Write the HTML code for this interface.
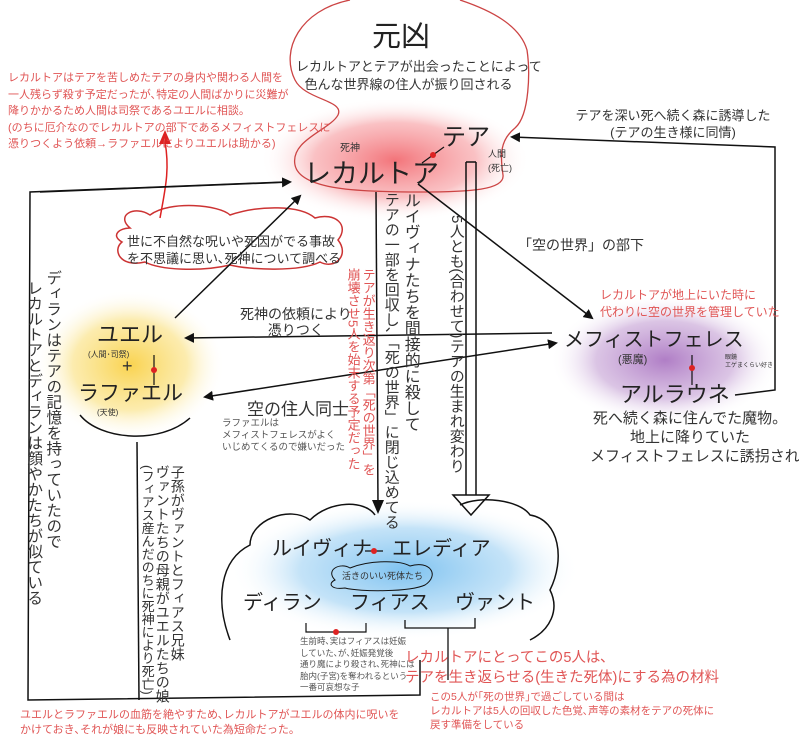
<!DOCTYPE html>
<html><head><meta charset="utf-8"><style>
body{margin:0;width:799px;height:751px;background:#fff;position:relative;overflow:hidden;font-family:"Liberation Sans","Noto Sans CJK JP",sans-serif;color:#333}
.t{position:absolute;white-space:nowrap;line-height:1.2}
.r{color:#e05555}
.v{writing-mode:vertical-rl;position:absolute;white-space:nowrap;line-height:1.05}
svg{position:absolute;left:0;top:0}
</style></head><body>
<svg width="799" height="751">
<defs>
<radialGradient id="pk"><stop offset="0" stop-color="#f26d73" stop-opacity=".95"/><stop offset=".6" stop-color="#f7a0a4" stop-opacity=".65"/><stop offset="1" stop-color="#fff" stop-opacity="0"/></radialGradient>
<radialGradient id="yl"><stop offset="0" stop-color="#f9d350"/><stop offset=".6" stop-color="#fbe79a" stop-opacity=".8"/><stop offset="1" stop-color="#fff" stop-opacity="0"/></radialGradient>
<radialGradient id="pu"><stop offset="0" stop-color="#b07ec6"/><stop offset=".6" stop-color="#d2b6de" stop-opacity=".8"/><stop offset="1" stop-color="#fff" stop-opacity="0"/></radialGradient>
<radialGradient id="bl"><stop offset="0" stop-color="#7ec2f0"/><stop offset=".6" stop-color="#b5dcf6" stop-opacity=".8"/><stop offset="1" stop-color="#fff" stop-opacity="0"/></radialGradient>
<marker id="a" markerWidth="10" markerHeight="10" refX="8" refY="5" orient="auto" markerUnits="userSpaceOnUse"><path d="M0,0L10,5L0,10z" fill="#111"/></marker>
<marker id="as" markerWidth="10" markerHeight="10" refX="2" refY="5" orient="auto" markerUnits="userSpaceOnUse"><path d="M10,0L0,5L10,10z" fill="#111"/></marker>
</defs>
<ellipse cx="395" cy="160" rx="135" ry="62" fill="url(#pk)"/>
<ellipse cx="130" cy="365" rx="95" ry="75" fill="url(#yl)"/>
<ellipse cx="665" cy="360" rx="115" ry="65" fill="url(#pu)"/>
<ellipse cx="405" cy="570" rx="175" ry="70" fill="url(#bl)"/>
<path d="M350,0 C300,10 280,50 295,80 C305,100 345,100 338,115 C330,130 290,140 295,165 C300,190 360,192 420,192 C470,192 505,190 503,175 C500,155 500,140 515,128 C530,115 530,70 527,50 C520,25 490,10 460,0" fill="none" stroke="#c44" stroke-width="1.3"/>
<path d="M130,228 C115,215 135,205 150,215 C170,200 220,205 230,215 C260,205 300,205 315,218 C335,212 350,225 338,240 C350,255 335,270 320,262 C300,272 250,270 230,265 C200,272 160,270 145,262 C120,268 112,250 122,242 C110,235 120,228 130,228Z" fill="none" stroke="#c33" stroke-width="1.5"/>
<path d="M160,218 C165,190 170,170 165,142" fill="none" stroke="#d22" stroke-width="1.5"/>
<path d="M159,144 L165,130 L171,144Z" fill="#d22"/>
<path d="M285,182 L30,192 L28,700 L420,695 L420,660" fill="none" stroke="#111" stroke-width="1.5"/>
<line x1="40" y1="192" x2="290" y2="182" stroke="#111" stroke-width="1.5" marker-end="url(#a)"/>
<line x1="175" y1="318" x2="300" y2="196" stroke="#111" stroke-width="1.5" marker-end="url(#a)"/>
<line x1="552" y1="333" x2="186" y2="338" stroke="#111" stroke-width="1.5" marker-end="url(#a)"/>
<line x1="205" y1="397" x2="556" y2="343" stroke="#111" stroke-width="1.5" marker-start="url(#as)" marker-end="url(#a)"/>
<line x1="418" y1="184" x2="592" y2="318" stroke="#111" stroke-width="1.5" marker-end="url(#a)"/>
<path d="M735,395 L775,390 L775,147 L512,137" fill="none" stroke="#111" stroke-width="1.5" marker-end="url(#a)"/>
<line x1="376" y1="192" x2="378" y2="505" stroke="#111" stroke-width="1.5"/>
<path d="M372,500 L378,514 L384,500Z" fill="#111"/>
<line x1="466" y1="162" x2="466" y2="495" stroke="#111" stroke-width="1.5"/>
<line x1="476" y1="162" x2="476" y2="495" stroke="#111" stroke-width="1.5"/>
<line x1="466" y1="162" x2="476" y2="162" stroke="#111" stroke-width="1.5"/>
<path d="M453,495 L471,515 L489,495Z" fill="#fff" stroke="#111" stroke-width="1.5"/>
<path d="M80,415 C100,440 160,445 190,418" fill="none" stroke="#111" stroke-width="1.5"/>
<line x1="137" y1="442" x2="139" y2="700" stroke="#111" stroke-width="1.5"/>
<path d="M230,640 C215,600 220,560 250,545 C250,520 290,505 310,520 C330,500 365,500 375,515 M460,505 C480,495 520,500 530,515 C560,520 565,560 550,590 C560,610 550,630 530,640" fill="none" stroke="#111" stroke-width="1.5"/>
<path d="M405,620 L405,628 L475,628 L475,618 M448,628 L448,680" fill="none" stroke="#111" stroke-width="1.3"/>
<path d="M306,623 L306,632 L366,632 L366,623" fill="none" stroke="#111" stroke-width="1.2"/>
<circle cx="336" cy="632" r="3" fill="#d22"/>
<path d="M335,580 C325,570 340,562 350,568 C370,560 400,560 410,566 C430,560 440,575 425,585 C410,592 360,592 345,588 C330,590 328,583 335,580Z" fill="none" stroke="#111" stroke-width="1"/>
<line x1="422" y1="163" x2="444" y2="147" stroke="#111" stroke-width="1.2"/><circle cx="433" cy="155" r="3" fill="#d22"/>
<line x1="154" y1="355" x2="154" y2="385" stroke="#111" stroke-width="1.2"/><circle cx="154" cy="370" r="3" fill="#d22"/>
<line x1="692" y1="355" x2="692" y2="385" stroke="#111" stroke-width="1.2"/><circle cx="692" cy="368" r="3" fill="#d22"/>
<line x1="365" y1="551" x2="383" y2="551" stroke="#111" stroke-width="1.2"/><circle cx="374" cy="551" r="3" fill="#d22"/>
</svg>

<div class="t" style="left:372px;top:20px;font-size:29px;color:#222">元凶</div>
<div class="t" style="left:296px;top:58px;font-size:13px;text-align:center;width:225px;line-height:18px">レカルトアとテアが出会ったことによって<br>色んな世界線の住人が振り回される</div>
<div class="t r" style="left:8px;top:70px;font-size:11px;line-height:16.5px">レカルトアはテアを苦しめたテアの身内や関わる人間を<br>一人残らず殺す予定だったが､特定の人間ばかりに災難が<br>降りかかるため人間は司祭であるユエルに相談。<br>(のちに厄介なのでレカルトアの部下であるメフィストフェレスに<br>憑りつくよう依頼→ラファエルによりユエルは助かる)</div>
<div class="t" style="left:340px;top:143px;font-size:10px">死神</div>
<div class="t" style="left:304px;top:158px;font-size:27px;color:#222">レカルトア</div>
<div class="t" style="left:442px;top:124px;font-size:24px;color:#222">テア</div>
<div class="t" style="left:488px;top:147px;font-size:9px;line-height:14px">人間<br>(死亡)</div>
<div class="t" style="left:568px;top:107px;font-size:13px;line-height:17px;text-align:center;width:210px">テアを深い死へ続く森に誘導した<br>(テアの生き様に同情)</div>
<div class="t" style="left:127px;top:233px;font-size:13px;line-height:17px">世に不自然な呪いや死因がでる事故<br>を不思議に思い､死神について調べる</div>
<div class="t" style="left:518px;top:237px;font-size:14px">「空の世界」の部下</div>
<div class="t r" style="left:600px;top:287px;font-size:12px;line-height:17px">レカルトアが地上にいた時に<br>代わりに空の世界を管理していた</div>
<div class="t" style="left:240px;top:306px;font-size:14px;line-height:16px;text-align:center">死神の依頼により<br>憑りつく</div>
<div class="t" style="left:97px;top:322px;font-size:22px;color:#222">ユエル</div>
<div class="t" style="left:88px;top:350px;font-size:8px">(人間･司祭)</div>
<div class="t" style="left:122px;top:356px;font-size:18px">+</div>
<div class="t" style="left:78px;top:381px;font-size:21px;color:#222">ラファエル</div>
<div class="t" style="left:97px;top:408px;font-size:8px">(天使)</div>
<div class="t" style="left:247px;top:400px;font-size:17px">空の住人同士</div>
<div class="t" style="left:222px;top:418px;font-size:9.5px;line-height:12px;color:#555">ラファエルは<br>メフィストフェレスがよく<br>いじめてくるので嫌いだった</div>
<div class="t" style="left:564px;top:328px;font-size:20px;color:#222">メフィストフェレス</div>
<div class="t" style="left:618px;top:354px;font-size:11px">(悪魔)</div>
<div class="t" style="left:725px;top:354px;font-size:6px;line-height:8px">眼鏡<br>エゲまくらい好き</div>
<div class="t" style="left:620px;top:382px;font-size:22px;color:#222">アルラウネ</div>
<div class="t" style="left:590px;top:409px;font-size:15px;line-height:19px;text-align:center;width:200px">死へ続く森に住んでた魔物。<br>地上に降りていた<br>メフィストフェレスに誘拐された</div>

<div class="v" style="left:44px;top:270px;font-size:15.5px">ディランはテアの記憶を持っていたので</div>
<div class="v" style="left:25px;top:280px;font-size:15.5px">レカルトアとディランは顔やかたちが似ている</div>
<div class="v" style="left:401px;top:192px;font-size:16px">ルイヴィナたちを間接的に殺して</div>
<div class="v" style="left:383px;top:192px;font-size:15px">テアの一部を回収し､「死の世界」に閉じ込めてる</div>
<div class="v r" style="left:361px;top:268px;font-size:13px">テアが生き返り次第「死の世界」を</div>
<div class="v r" style="left:346px;top:268px;font-size:13px">崩壊させ5人を始末する予定だった</div>
<div class="v" style="left:448px;top:215px;font-size:15px">5人とも(合わせて)テアの生まれ変わり</div>
<div class="v" style="left:170px;top:465px;font-size:14px">子孫がヴァントとフィアス兄妹</div>
<div class="v" style="left:155px;top:465px;font-size:14px">ヴァントたちの母親がユエルたちの娘</div>
<div class="v" style="left:140px;top:465px;font-size:13px">(フィアス産んだのちに死神により死亡)</div>

<div class="t" style="left:272px;top:537px;font-size:20px;color:#222">ルイヴィナ　エレディア</div>
<div class="t" style="left:342px;top:571px;font-size:9px">活きのいい死体たち</div>
<div class="t" style="left:243px;top:591px;font-size:20px;color:#222">ディラン</div>
<div class="t" style="left:350px;top:591px;font-size:20px;color:#222">フィアス</div>
<div class="t" style="left:455px;top:591px;font-size:20px;color:#222">ヴァント</div>
<div class="t" style="left:300px;top:636px;font-size:8.5px;line-height:11.5px;color:#555">生前時､実はフィアスは妊娠<br>していた､が､妊娠発覚後<br>通り魔により殺され､死神には<br>胎内(子宮)を奪われるという<br>一番可哀想な子</div>
<div class="t r" style="left:405px;top:648px;font-size:14.5px;line-height:20px">レカルトアにとってこの5人は､<br>テアを生き返らせる(生きた死体)にする為の材料</div>
<div class="t r" style="left:430px;top:690px;font-size:10.5px;line-height:14px">この5人が｢死の世界｣で過ごしている間は<br>レカルトアは5人の回収した色覚､声等の素材をテアの死体に<br>戻す準備をしている</div>
<div class="t r" style="left:20px;top:708px;font-size:11px;line-height:15px">ユエルとラファエルの血筋を絶やすため､レカルトアがユエルの体内に呪いを<br>かけておき､それが娘にも反映されていた為短命だった。</div>
</body></html>
